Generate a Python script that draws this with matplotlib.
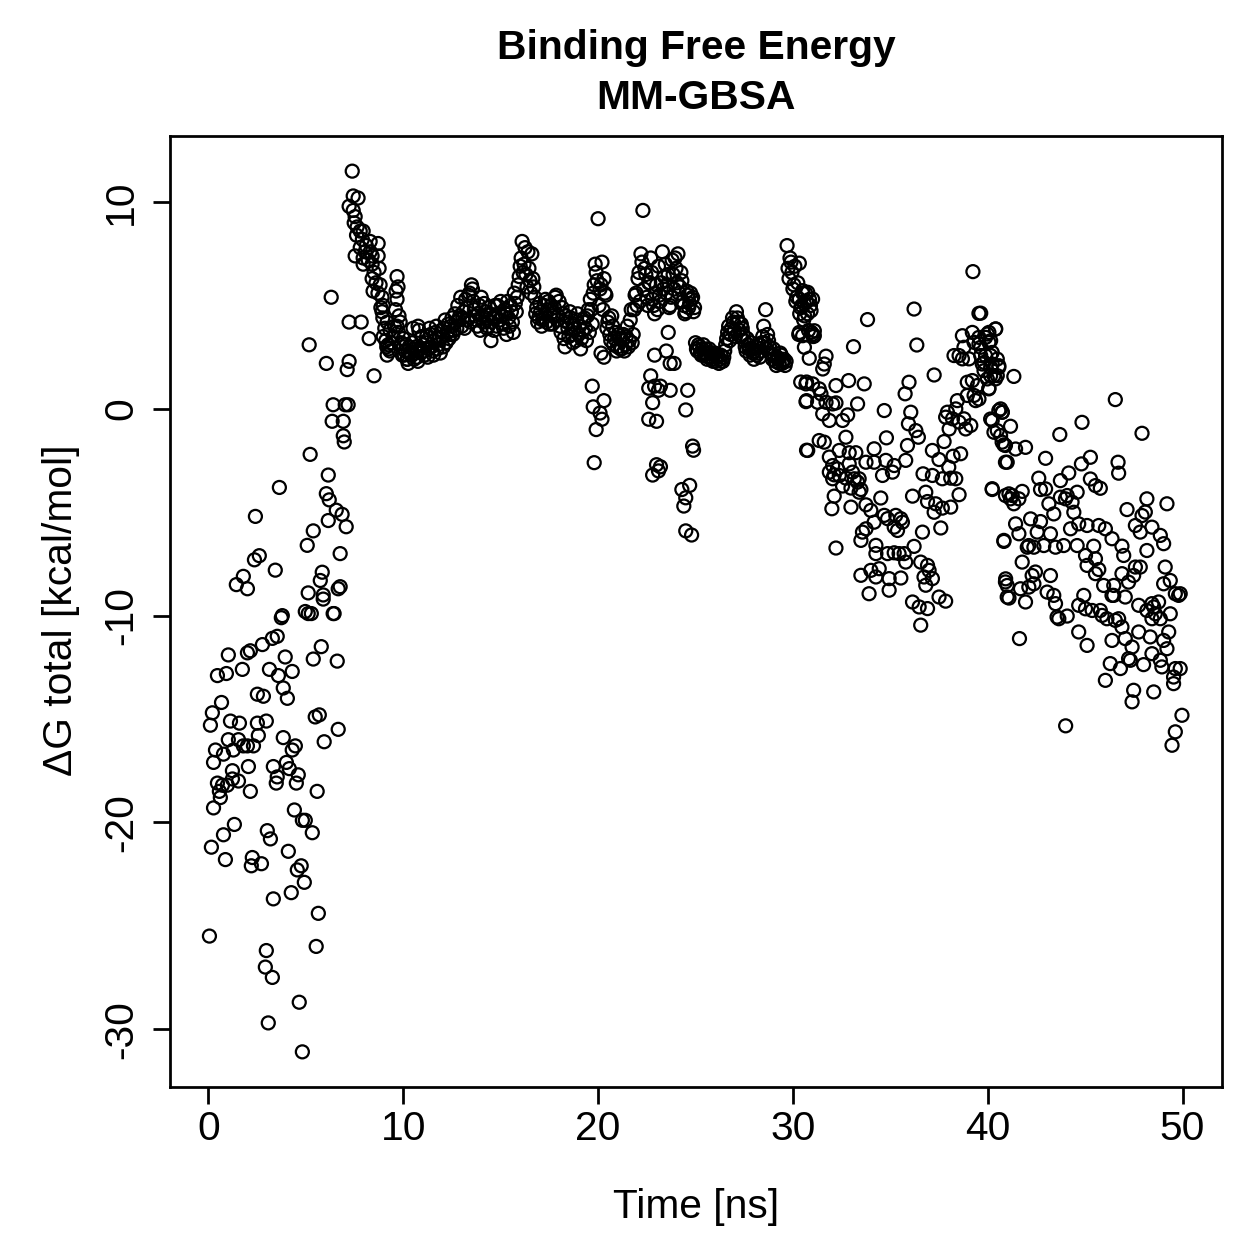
"""MM-GBSA binding free energy over the trajectory, R-style scatter."""

import matplotlib

matplotlib.use("Agg")
import matplotlib.pyplot as plt  # noqa: E402
import numpy as np  # noqa: E402

plt.rcParams["font.family"] = ["Liberation Sans", "DejaVu Sans"]
plt.rcParams["axes.unicode_minus"] = False

# --- early frames, lower cloud (0-7 ns) ---
rise_low_t = [
    3.74, 5.12, 6.40, 3.28, 3.53, 2.77, 2.15, 2.00, 1.02, 5.79,
    3.94, 5.38, 6.61, 1.74, 3.13, 0.92, 0.46, 3.59, 4.30, 3.84,
    4.05, 2.51, 2.82, 0.67, 0.20, 0.10, 1.13, 1.59, 2.51, 2.97,
    5.48, 5.69, 6.66, 2.56, 3.84, 5.94, 1.02, 1.54, 1.79, 2.00,
    2.31, 0.36, 0.77, 1.28, 4.46, 4.30, 0.26, 2.05, 3.33, 3.53,
    3.48, 4.00, 4.15, 4.61, 4.51, 5.58, 1.23, 1.54, 1.23, 0.46,
    0.72, 0.97, 0.56, 0.61, 0.26, 2.15, 4.41, 4.82, 4.97, 5.33,
    1.33, 0.77, 0.15, 3.02, 3.18, 0.87, 2.25, 2.72, 2.20, 4.10,
    4.76, 4.56, 4.92, 4.25, 5.64, 3.33, 0.05, 2.97, 5.53, 2.92,
    3.28, 4.66, 3.07, 4.82,
]
rise_low_dg = [
    -10.1, -9.9, -9.9, -11.1, -11.0, -11.4, -11.7, -11.8, -11.9, -11.5,
    -12.0, -12.1, -12.2, -12.6, -12.6, -12.8, -12.9, -12.9, -12.7, -13.5,
    -14.0, -13.8, -13.9, -14.2, -14.7, -15.3, -15.1, -15.2, -15.2, -15.1,
    -14.9, -14.8, -15.5, -15.8, -15.9, -16.1, -16.0, -16.0, -16.3, -16.3,
    -16.3, -16.5, -16.7, -16.5, -16.3, -16.5, -17.1, -17.3, -17.3, -17.8,
    -18.1, -17.1, -17.4, -17.7, -18.1, -18.5, -17.5, -18.0, -17.9, -18.1,
    -18.2, -18.2, -18.5, -18.8, -19.3, -18.5, -19.4, -19.9, -19.9, -20.5,
    -20.1, -20.6, -21.2, -20.4, -20.8, -21.8, -21.7, -22.0, -22.1, -21.4,
    -22.1, -22.3, -22.9, -23.4, -24.4, -23.7, -25.5, -26.2, -26.0, -27.0,
    -27.5, -28.7, -29.7, -31.1,
]

# --- early frames, upper cloud and the jump to the plateau (1-11 ns) ---
rise_high_t = [
    7.38, 7.43, 7.68, 7.22, 7.43, 7.53, 7.63, 7.79, 7.94, 8.30,
    8.71, 7.79, 8.04, 8.30, 7.53, 7.94, 8.40, 8.71, 7.94, 8.40,
    8.76, 8.40, 8.81, 9.68, 9.73, 9.63, 9.68, 8.45, 8.91, 8.97,
    8.91, 9.78, 9.84, 9.68, 9.17, 9.32, 9.48, 8.97, 9.22, 9.32,
    9.17, 9.99, 10.25, 10.20, 10.45, 10.71, 10.76, 6.30, 7.22, 7.84,
    8.25, 5.17, 6.05, 7.22, 7.12, 8.50, 6.40, 7.02, 7.17, 6.35,
    6.92, 6.92, 6.97, 5.22, 6.15, 3.64, 6.05, 6.20, 6.56, 6.86,
    6.15, 7.07, 2.41, 5.38, 5.07, 6.76, 2.61, 2.36, 3.43, 5.84,
    5.74, 1.79, 1.43, 2.00, 6.76, 6.66, 5.12, 5.89, 5.89, 3.79,
    4.97, 5.28, 6.45,
    7.48, 7.60, 7.90, 8.10, 8.20, 8.50, 8.60, 8.70, 8.85, 8.95,
    9.05, 9.10, 9.15, 9.25, 9.40, 9.55, 9.60, 9.75, 9.90, 9.95,
]
rise_high_dg = [
    11.5, 10.3, 10.2, 9.8, 9.6, 9.3, 8.8, 8.6, 8.6, 8.1,
    8.0, 7.8, 7.6, 7.6, 7.4, 7.3, 7.4, 7.4, 7.0, 7.0,
    6.8, 6.3, 6.0, 6.4, 5.9, 5.7, 5.3, 5.7, 5.4, 5.0,
    4.7, 4.5, 4.2, 4.0, 4.2, 3.8, 3.5, 3.5, 3.1, 2.8,
    2.6, 3.0, 2.8, 2.4, 2.6, 2.8, 4.0, 5.4, 4.2, 4.2,
    3.4, 3.1, 2.2, 2.3, 1.9, 1.6, 0.2, 0.2, 0.2, -0.6,
    -0.6, -1.3, -1.6, -2.2, -3.2, -3.8, -4.1, -4.4, -4.9, -5.1,
    -5.4, -5.7, -5.2, -5.9, -6.6, -7.0, -7.1, -7.3, -7.8, -7.9,
    -8.3, -8.1, -8.5, -8.7, -8.6, -8.7, -8.9, -9.0, -9.2, -10.0,
    -9.8, -9.9, -9.9,
    9.0, 8.4, 8.2, 7.9, 7.2, 6.6, 6.1, 5.6, 4.9, 4.4,
    3.9, 3.3, 3.0, 2.9, 3.2, 4.0, 4.8, 3.7, 3.2, 2.6,
]

# --- plateau, frames on the whole 0.1 ns (10-31 ns) ---
plateau_a_t = [
    10.0, 10.1, 10.2, 10.3, 10.4, 10.5, 10.6, 10.7, 10.8, 10.9,
    11.0, 11.1, 11.2, 11.3, 11.4, 11.5, 11.6, 11.7, 11.8, 11.9,
    12.0, 12.1, 12.2, 12.3, 12.4, 12.5, 12.6, 12.7, 12.8, 12.9,
    13.0, 13.1, 13.2, 13.3, 13.4, 13.5, 13.6, 13.7, 13.8, 13.9,
    14.0, 14.1, 14.2, 14.3, 14.4, 14.5, 14.6, 14.7, 14.8, 14.9,
    15.0, 15.1, 15.2, 15.3, 15.4, 15.5, 15.6, 15.7, 15.8, 15.9,
    16.0, 16.1, 16.2, 16.3, 16.4, 16.5, 16.6, 16.7, 16.8, 16.9,
    17.0, 17.1, 17.2, 17.3, 17.4, 17.5, 17.6, 17.7, 17.8, 17.9,
    18.0, 18.1, 18.2, 18.3, 18.4, 18.5, 18.6, 18.7, 18.8, 18.9,
    19.0, 19.1, 19.2, 19.3, 19.4, 19.5, 19.6, 19.7, 19.8, 19.9,
    20.0, 20.1, 20.2, 20.3, 20.4, 20.5, 20.6, 20.7, 20.8, 20.9,
    21.0, 21.1, 21.2, 21.3, 21.4, 21.5, 21.6, 21.7, 21.8, 21.9,
    22.0, 22.1, 22.2, 22.3, 22.4, 22.5, 22.6, 22.7, 22.8, 22.9,
    23.0, 23.1, 23.2, 23.3, 23.4, 23.5, 23.6, 23.7, 23.8, 23.9,
    24.0, 24.1, 24.2, 24.3, 24.4, 24.5, 24.6, 24.7, 24.8, 24.9,
    25.0, 25.1, 25.2, 25.3, 25.4, 25.5, 25.6, 25.7, 25.8, 25.9,
    26.0, 26.1, 26.2, 26.3, 26.4, 26.5, 26.6, 26.7, 26.8, 26.9,
    27.0, 27.1, 27.2, 27.3, 27.4, 27.5, 27.6, 27.7, 27.8, 27.9,
    28.0, 28.1, 28.2, 28.3, 28.4, 28.5, 28.6, 28.7, 28.8, 28.9,
    29.0, 29.1, 29.2, 29.3, 29.4, 29.5, 29.6, 29.7, 29.8, 29.9,
    30.0, 30.1, 30.2, 30.3, 30.4, 30.5, 30.6, 30.7, 30.8, 30.9,
    31.0,
]
plateau_a_dg = [
    3.4, 2.8, 2.4, 3.0, 2.6, 3.9, 2.9, 2.5, 3.8, 2.7,
    3.1, 2.6, 3.5, 2.9, 3.6, 2.8, 3.3, 4.0, 3.1, 2.7,
    3.5, 3.9, 3.2, 4.1, 3.6, 4.4, 3.8, 4.2, 5.0, 4.5,
    4.0, 4.7, 5.3, 4.3, 5.6, 6.0, 5.2, 4.5, 4.0, 5.0,
    5.4, 4.2, 4.7, 3.9, 4.9, 3.3, 4.4, 5.0, 4.0, 4.6,
    5.2, 4.1, 4.8, 3.6, 4.4, 5.0, 4.2, 5.6, 4.7, 6.0,
    6.9, 8.1, 7.0, 6.5, 7.6, 6.2, 7.5, 5.9, 4.6, 4.2,
    5.1, 4.0, 4.4, 5.3, 4.8, 4.1, 5.0, 4.5, 5.4, 4.3,
    5.2, 3.7, 4.6, 3.0, 4.2, 3.5, 4.4, 3.2, 3.9, 4.3,
    3.6, 2.9, 3.8, 4.4, 3.3, 4.8, 5.3, 4.1, 6.0, 6.6,
    9.2, 5.8, 7.1, 6.3, 5.5, 4.2, 3.6, 4.5, 3.1, 3.7,
    3.0, 3.4, 2.9, 3.6, 3.1, 4.0, 3.3, 4.8, 3.6, 5.5,
    5.0, 6.6, 7.5, 9.6, 6.8, 5.4, 6.1, 7.3, 5.3, 4.6,
    6.0, 6.9, 5.2, 7.6, 6.4, 5.6, 6.5, 5.0, 7.2, 5.8,
    6.8, 7.5, 5.9, 6.2, 5.0, 4.7, 5.5, 5.1, 5.3, 4.7,
    3.2, 2.8, 3.0, 2.6, 3.1, 2.7, 2.4, 2.9, 2.5, 2.3,
    2.7, 2.5, 2.2, 2.6, 2.3, 2.8, 3.4, 4.0, 3.6, 4.4,
    3.8, 4.7, 4.2, 3.5, 3.9, 3.3, 2.8, 3.1, 2.6, 2.9,
    2.4, 3.0, 2.7, 2.5, 3.2, 4.0, 4.8, 3.6, 3.0, 2.6,
    2.9, 2.3, 2.5, 2.2, 2.6, 2.3, 2.1, 7.9, 6.3, 7.1,
    5.8, 6.9, 5.4, 3.6, 4.9, 5.6, 4.5, 5.2, 3.8, 5.0,
    3.6,
]

# --- plateau, frames in between (10.05-31.05 ns) ---
plateau_b_t = [
    10.05, 10.15, 10.25, 10.35, 10.45, 10.55, 10.65, 10.75, 10.85, 10.95,
    11.05, 11.15, 11.25, 11.35, 11.45, 11.55, 11.65, 11.75, 11.85, 11.95,
    12.05, 12.15, 12.25, 12.35, 12.45, 12.55, 12.65, 12.75, 12.85, 12.95,
    13.05, 13.15, 13.25, 13.35, 13.45, 13.55, 13.65, 13.75, 13.85, 13.95,
    14.05, 14.15, 14.25, 14.35, 14.45, 14.55, 14.65, 14.75, 14.85, 14.95,
    15.05, 15.15, 15.25, 15.35, 15.45, 15.55, 15.65, 15.75, 15.85, 15.95,
    16.05, 16.15, 16.25, 16.35, 16.45, 16.55, 16.65, 16.75, 16.85, 16.95,
    17.05, 17.15, 17.25, 17.35, 17.45, 17.55, 17.65, 17.75, 17.85, 17.95,
    18.05, 18.15, 18.25, 18.35, 18.45, 18.55, 18.65, 18.75, 18.85, 18.95,
    19.05, 19.15, 19.25, 19.35, 19.45, 19.55, 19.65, 19.75, 19.85, 19.95,
    20.05, 20.15, 20.25, 20.35, 20.45, 20.55, 20.65, 20.75, 20.85, 20.95,
    21.05, 21.15, 21.25, 21.35, 21.45, 21.55, 21.65, 21.75, 21.85, 21.95,
    22.05, 22.15, 22.25, 22.35, 22.45, 22.55, 22.65, 22.75, 22.85, 22.95,
    23.05, 23.15, 23.25, 23.35, 23.45, 23.55, 23.65, 23.75, 23.85, 23.95,
    24.05, 24.15, 24.25, 24.35, 24.45, 24.55, 24.65, 24.75, 24.85, 24.95,
    25.05, 25.15, 25.25, 25.35, 25.45, 25.55, 25.65, 25.75, 25.85, 25.95,
    26.05, 26.15, 26.25, 26.35, 26.45, 26.55, 26.65, 26.75, 26.85, 26.95,
    27.05, 27.15, 27.25, 27.35, 27.45, 27.55, 27.65, 27.75, 27.85, 27.95,
    28.05, 28.15, 28.25, 28.35, 28.45, 28.55, 28.65, 28.75, 28.85, 28.95,
    29.05, 29.15, 29.25, 29.35, 29.45, 29.55, 29.65, 29.75, 29.85, 29.95,
    30.05, 30.15, 30.25, 30.35, 30.45, 30.55, 30.65, 30.75, 30.85, 30.95,
    31.05,
]
plateau_b_dg = [
    2.6, 3.1, 2.2, 2.7, 3.2, 2.4, 3.0, 2.3, 2.9, 3.5,
    2.8, 3.2, 2.5, 3.9, 3.0, 2.6, 3.7, 2.9, 3.4, 3.8,
    3.0, 4.3, 3.7, 3.4, 4.0, 3.6, 4.6, 3.9, 4.3, 5.4,
    4.4, 3.9, 4.9, 5.5, 4.2, 5.8, 4.8, 4.3, 4.6, 3.8,
    4.5, 5.1, 4.4, 4.0, 4.6, 4.2, 3.8, 4.5, 5.0, 4.3,
    4.5, 3.9, 4.6, 5.2, 4.0, 4.7, 3.7, 5.1, 5.4, 6.4,
    7.3, 6.6, 7.8, 5.9, 6.8, 5.6, 6.3, 5.4, 4.9, 4.4,
    4.7, 4.3, 5.0, 4.2, 5.2, 4.6, 4.1, 4.9, 5.5, 4.5,
    4.0, 4.9, 3.4, 4.5, 3.9, 4.7, 3.6, 4.1, 3.3, 4.6,
    4.0, 3.4, 4.2, 3.9, 4.5, 3.7, 4.8, 5.6, 7.0, 6.2,
    5.0, 6.0, 4.8, 5.6, 3.9, 4.4, 3.3, 4.0, 3.4, 2.8,
    3.6, 2.9, 3.3, 2.8, 3.5, 3.0, 4.3, 3.2, 4.8, 5.6,
    6.3, 5.2, 7.1, 5.8, 6.5, 5.0, 6.1, 6.6, 5.0, 5.6,
    4.8, 5.5, 6.1, 5.8, 7.0, 6.0, 4.9, 5.4, 6.5, 7.3,
    6.1, 5.6, 6.6, 5.2, 4.6, 5.7, 4.9, 5.6, 5.4, 4.9,
    2.9, 3.1, 2.7, 2.9, 2.6, 2.9, 2.5, 2.7, 2.4, 2.6,
    2.3, 2.6, 2.4, 2.3, 2.5, 3.1, 3.7, 3.3, 3.9, 4.2,
    3.5, 4.4, 3.8, 4.1, 3.6, 3.0, 3.4, 2.9, 3.2, 2.7,
    2.8, 2.6, 3.1, 2.8, 3.5, 3.2, 2.9, 3.3, 2.7, 2.4,
    2.6, 2.1, 2.4, 2.7, 2.2, 2.4, 2.3, 6.8, 7.3, 6.6,
    6.0, 5.2, 6.1, 4.6, 5.0, 4.3, 5.6, 4.6, 5.3, 3.7,
    3.5,
]

# --- short drops out of the plateau (20, 23-25, 30.5 ns) ---
dips_t = [
    19.70, 19.75, 20.10, 19.90, 20.30, 19.80, 20.15, 20.30, 20.20, 22.70,
    22.90, 23.20, 23.10, 22.60, 23.70, 22.80, 22.60, 23.00, 24.60, 24.50,
    23.60, 23.50, 23.70, 23.90, 22.90, 23.20, 22.80, 23.10, 23.00, 24.85,
    24.90, 24.30, 24.70, 24.40, 24.50, 24.50, 24.80, 30.40, 30.70, 30.70,
    30.70,
]
dips_dg = [
    1.1, 0.1, -0.2, -1.0, 0.4, -2.6, 2.7, 2.5, -0.5, 1.6,
    1.1, 1.1, 0.9, 1.0, 0.9, 0.3, -0.5, -0.6, 0.9, -0.05,
    3.7, 2.8, 2.2, 2.2, 2.6, -2.8, -3.2, -3.0, -2.7, -1.8,
    -2.0, -3.9, -3.7, -4.7, -4.3, -5.9, -6.1, 1.3, 1.3, 0.4,
    -2.0,
]

# --- decline after 30 ns (30-41 ns) ---
decay_t = [
    30.33, 30.50, 30.76, 31.01, 30.33, 30.59, 30.93, 30.33, 30.50, 31.10,
    31.10, 30.59, 30.84, 31.70, 31.53, 31.61, 33.11, 33.83, 36.22, 36.36,
    39.24, 39.55, 37.25, 30.67, 31.01, 31.35, 31.44, 31.27, 32.21, 32.86,
    33.66, 30.67, 31.70, 32.04, 32.21, 33.32, 31.53, 31.87, 32.55, 32.81,
    34.69, 30.76, 31.35, 31.61, 31.87, 32.38, 32.89, 33.23, 32.72, 34.17,
    34.80, 35.96, 35.76, 36.05, 35.93, 36.31, 36.44, 35.88, 31.87, 32.12,
    32.38, 32.04, 32.72, 33.06, 32.55, 32.98, 33.32, 33.49, 34.17, 34.60,
    34.77, 35.20, 35.11, 35.79, 32.12, 32.00, 32.98, 33.40, 33.75, 34.00,
    34.51, 34.17, 34.69, 34.86, 35.28, 35.54, 35.20, 35.37, 35.62, 36.14,
    36.82, 36.91, 37.33, 37.25, 37.67, 38.10, 38.53, 36.68, 37.16, 37.67,
    38.10, 37.16, 37.50, 37.76, 38.22, 38.61, 38.00, 38.36, 36.65, 37.59,
    33.57, 33.75, 33.49, 34.26, 34.26, 32.21, 34.86, 35.20, 35.45, 35.71,
    35.79, 36.22, 33.49, 34.00, 34.26, 34.43, 34.94, 35.54, 34.94, 33.91,
    36.56, 36.91, 36.99, 37.16, 36.73, 36.82, 36.14, 36.48, 36.91, 37.50,
    37.84, 36.56, 38.70, 39.21, 39.55, 39.98, 40.41, 40.06, 39.64, 39.30,
    38.78, 38.53, 38.27, 38.70, 39.04, 39.64, 39.81, 40.15, 40.23, 40.57,
    40.49, 40.15, 38.95, 39.21, 39.47, 39.30, 39.38, 38.95, 40.06, 38.44,
    38.36, 37.93, 37.84, 38.19, 38.78, 38.53, 38.87, 39.13, 38.02, 40.23,
    40.57, 40.74, 40.49, 40.74, 40.91, 40.91, 40.23, 40.91, 40.83, 40.91,
    41.00, 32.04, 32.29, 32.89, 33.15, 33.40, 33.75,
]
decay_dg = [
    7.05, 5.72, 5.64, 5.31, 5.31, 5.07, 4.75, 3.70, 3.54, 3.78,
    3.54, 2.98, 2.45, 2.55, 1.93, 2.17, 3.01, 4.32, 4.83, 3.09,
    6.64, 4.62, 1.64, 1.21, 1.21, 0.97, 0.73, 0.32, 1.13, 1.37,
    1.21, 0.35, 0.32, 0.24, 0.29, 0.24, -0.24, -0.56, -0.56, -0.29,
    -0.08, -2.01, -1.53, -1.61, -2.33, -2.01, -2.12, -2.12, -1.37, -1.93,
    -1.40, 1.29, 0.73, -0.16, -0.72, -1.05, -1.37, -1.77, -3.06, -3.19,
    -3.22, -3.38, -3.35, -3.06, -3.73, -3.83, -3.54, -3.90, -2.58, -3.22,
    -2.49, -2.74, -3.06, -2.49, -4.22, -4.83, -4.75, -4.03, -4.64, -4.91,
    -4.31, -5.48, -5.15, -5.31, -5.15, -5.31, -5.72, -5.88, -5.48, -4.22,
    -4.03, -4.48, -4.59, -5.00, -4.80, -4.75, -4.15, -3.14, -3.22, -3.38,
    -3.35, -2.01, -2.45, -1.58, -2.29, -2.17, -2.82, -3.38, -5.96, -5.76,
    -5.96, -5.80, -6.36, -6.60, -7.00, -6.73, -7.00, -6.96, -7.00, -7.00,
    -7.41, -6.65, -8.05, -7.81, -8.13, -7.73, -8.21, -8.18, -8.77, -8.94,
    -7.41, -7.57, -7.81, -8.21, -8.13, -8.53, -9.34, -9.58, -9.66, -9.10,
    -9.30, -10.46, 3.54, 3.70, 3.46, 3.62, 3.87, 3.22, 2.98, 3.22,
    2.98, 2.58, 2.58, 2.42, 2.42, 2.58, 2.25, 2.58, 2.17, 2.09,
    1.61, 1.61, 1.29, 1.37, 1.13, 0.65, 0.40, 0.65, 0.97, 0.40,
    0.00, -0.16, -0.40, -0.48, -0.48, -0.64, -0.97, -0.80, -0.97, -0.56,
    -0.08, -0.16, -1.05, -1.61, -1.77, -2.58, -3.86, -4.19, -6.41, -8.37,
    -9.10, -2.74, -2.90, -2.66, -3.38, -3.38, -2.58,
]

# --- last stretch (40-50 ns) ---
tail_t = [
    39.64, 40.40, 40.06, 39.89, 40.15, 39.55, 40.23, 39.89, 40.49, 40.57,
    39.72, 40.15, 39.81, 40.32, 40.40, 39.98, 41.34, 40.06, 39.55, 40.66,
    40.75, 40.15, 41.17, 40.32, 40.66, 40.83, 41.43, 41.94, 41.00, 46.55,
    44.84, 43.70, 47.92, 42.97, 45.27, 44.81, 46.69, 46.72, 45.27, 45.78,
    45.53, 44.16, 43.73, 42.62, 42.97, 42.71, 43.73, 44.08, 44.59, 44.33,
    44.42, 43.99, 40.23, 41.09, 41.17, 41.34, 41.77, 41.26, 41.60, 43.14,
    43.39, 47.15, 47.58, 47.92, 48.17, 48.09, 48.43, 48.86, 49.20, 47.83,
    49.03, 42.20, 42.71, 41.43, 41.60, 40.83, 43.22, 42.88, 42.03, 42.37,
    41.77, 42.11, 42.54, 44.25, 44.67, 45.10, 45.70, 46.04, 46.38, 46.89,
    46.98, 43.90, 43.48, 44.59, 45.44, 45.02, 45.53, 45.10, 45.70, 45.53,
    47.58, 47.83, 47.49, 47.23, 48.17, 49.11, 49.37, 49.03, 49.63, 49.88,
    49.80, 46.89, 46.47, 45.95, 46.47, 46.38, 47.06, 40.92, 41.00, 41.09,
    41.68, 41.94, 42.37, 42.11, 42.28, 42.45, 43.22, 43.05, 43.39, 43.48,
    43.56, 43.65, 44.08, 44.67, 45.02, 44.93, 45.36, 45.78, 45.87, 46.12,
    46.55, 46.72, 46.89, 47.75, 48.17, 48.52, 48.60, 48.43, 48.86, 49.37,
    48.77, 48.43, 44.67, 45.10, 46.38, 47.06, 47.41, 47.75, 48.34, 49.03,
    49.29, 49.20, 41.63, 46.29, 46.81, 47.32, 47.23, 48.00, 48.43, 48.86,
    48.94, 49.63, 49.88, 49.54, 49.54, 46.04, 47.49, 47.41, 48.52, 44.00,
    49.97, 49.63, 49.46,
]
tail_dg = [
    4.63, 3.86, 3.70, 3.46, 3.30, 3.14, 2.73, 2.57, 2.41, 2.01,
    2.17, 2.01, 1.85, 1.61, 1.45, 1.45, 1.57, 1.00, 0.48, 0.00,
    -0.16, -0.49, -0.84, -1.13, -1.29, -1.74, -1.94, -1.86, -2.58, 0.45,
    -0.65, -1.24, -1.18, -2.39, -2.34, -2.66, -2.58, -3.11, -3.39, -3.84,
    -3.71, -3.10, -3.47, -3.35, -3.87, -3.90, -4.27, -4.19, -4.03, -4.51,
    -5.00, -4.35, -3.90, -4.11, -4.35, -4.59, -3.99, -4.19, -4.35, -4.59,
    -5.08, -4.87, -5.64, -5.16, -4.35, -4.99, -5.72, -6.12, -4.59, -5.96,
    -6.52, -5.32, -5.45, -5.56, -6.04, -6.36, -6.04, -6.61, -6.69, -6.69,
    -7.41, -6.61, -5.96, -5.80, -5.56, -5.64, -5.64, -5.80, -6.28, -6.64,
    -7.09, -6.61, -6.69, -6.61, -6.64, -7.09, -7.25, -7.57, -7.77, -7.97,
    -7.65, -7.65, -8.06, -8.38, -6.85, -7.65, -8.30, -8.46, -8.94, -8.94,
    -9.02, -7.97, -8.54, -8.54, -9.02, -9.02, -9.10, -8.22, -8.54, -9.15,
    -8.70, -9.34, -8.46, -8.62, -8.06, -7.89, -8.06, -8.86, -9.02, -9.42,
    -10.07, -10.15, -10.02, -9.50, -9.67, -9.02, -9.75, -9.75, -9.99, -10.15,
    -10.23, -10.15, -10.55, -9.50, -9.75, -9.58, -9.91, -10.15, -10.15, -9.91,
    -9.34, -9.42, -10.79, -11.44, -11.20, -11.11, -11.52, -10.79, -11.03, -11.20,
    -10.79, -11.60, -11.11, -12.32, -12.56, -12.16, -12.08, -12.37, -11.84, -12.16,
    -12.48, -12.56, -12.56, -12.97, -13.29, -13.13, -13.61, -14.17, -13.69, -15.33,
    -14.82, -15.62, -16.27,
]

time_ns = np.concatenate([rise_low_t, rise_high_t, plateau_a_t, plateau_b_t,
                          dips_t, decay_t, tail_t])
dg_total = np.concatenate([rise_low_dg, rise_high_dg, plateau_a_dg, plateau_b_dg,
                           dips_dg, decay_dg, tail_dg])

W = 1259
fig = plt.figure(figsize=(W / 180, W / 180), dpi=180)
ax = fig.add_axes([169.5 / W, 1 - 1087 / W, 1052 / W, 951 / W])

# open circles, like R's default pch = 1
ax.scatter(time_ns, dg_total, s=27, facecolors="none", edgecolors="black",
           linewidths=0.9)

ax.set_xlim(-2, 52)
ax.set_ylim(-32.8, 13.2)
ax.set_xticks([0, 10, 20, 30, 40, 50])
ax.set_yticks([-30, -20, -10, 0, 10])
for side in ax.spines.values():
    side.set_linewidth(1.1)
ax.tick_params(direction="out", length=6.8, width=1.1, labelsize=16.3,
               color="black")
ax.tick_params(axis="x", pad=2.5)
ax.tick_params(axis="y", pad=5.0, labelrotation=90)
for lab in ax.get_yticklabels():
    lab.set_verticalalignment("center")

fig.text(696 / W, 1 - 59 / W, "Binding Free Energy", ha="center",
         va="baseline", fontsize=16.3, fontweight="bold")
fig.text(696 / W, 1 - 109 / W, "MM-GBSA", ha="center", va="baseline",
         fontsize=16.3, fontweight="bold")
fig.text(696 / W, 1 - 1218 / W, "Time [ns]", ha="center", va="baseline",
         fontsize=16.3)
fig.text(72 / W, 1 - 610 / W, "ΔG total [kcal/mol]", ha="center",
         va="baseline", rotation=90, rotation_mode="anchor", fontsize=16.3)

fig.savefig("out.png", dpi=180)
plt.close(fig)
